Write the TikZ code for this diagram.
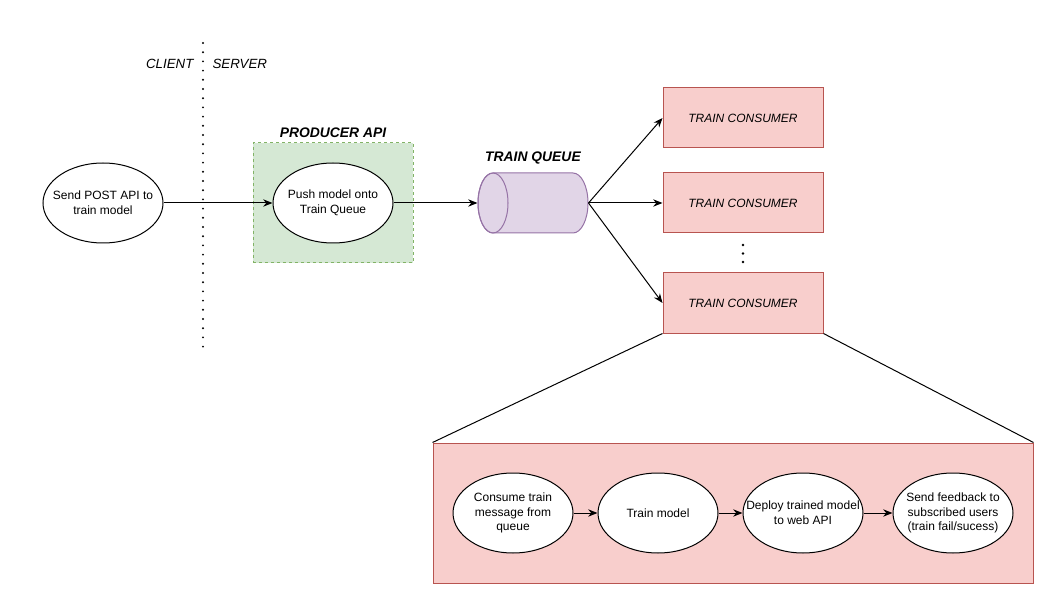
\documentclass[tikz,border=0pt]{standalone}
\usepackage{fontspec}
\setmainfont{Liberation Sans}
\usetikzlibrary{arrows.meta,shapes.geometric}
\definecolor{gfill}{HTML}{D5E8D4}
\definecolor{gline}{HTML}{82B366}
\definecolor{pfill}{HTML}{E1D5E7}
\definecolor{pline}{HTML}{9673A6}
\definecolor{rfill}{HTML}{F8CECC}
\definecolor{rline}{HTML}{B85450}
\tikzset{
  every picture/.style={line width=0.75pt},
  txt/.style={font=\fontsize{9}{11}\selectfont, align=center},
  oval/.style={ellipse, draw=black, fill=white, inner xsep=-12pt, inner ysep=0pt, minimum width=90pt, minimum height=60pt, txt},
  consumer/.style={rectangle, draw=rline, fill=rfill, inner sep=0pt, minimum width=120pt, minimum height=45pt, font=\fontsize{9}{11}\selectfont\itshape},
  arr/.style={-{Stealth[length=7pt,width=5.5pt]}, line width=0.75pt},
  lbl/.style={font=\fontsize{10}{12}\selectfont\itshape, inner sep=0pt},
  blbl/.style={font=\fontsize{10.4}{12}\selectfont\bfseries\itshape, inner sep=0pt}
}
\begin{document}
\begin{tikzpicture}[x=0.75pt,y=-0.75pt]
\useasboundingbox (0,0) rectangle (1053,602);
% client/server divider
\coordinate (divtop) at (203,43);
\coordinate (divbot) at (203,350);
\draw[line width=1.6pt, line cap=round, dash pattern=on 0pt off 6.9pt] (divtop) -- (divbot);
\node[lbl, anchor=east] (client) at (194,64) {CLIENT};
\node[lbl, anchor=west] (server) at (212,64) {SERVER};
% producer
\node[rectangle, draw=gline, fill=gfill, dash pattern=on 2.25pt off 2.25pt, minimum width=120pt, minimum height=90pt, inner sep=0pt] (prodbox) at (333,203) {};
\node[blbl] (prodlbl) at (333,133) {PRODUCER API};
\node[oval] (send) at (103,203) {Send POST API to\\train model};
\node[oval] (push) at (333,203) {Push model onto\\Train Queue};
% queue
\node[rectangle, inner sep=0pt, minimum width=82.5pt, minimum height=45pt] (queue) at (533,203) {};
\filldraw[draw=pline, fill=pfill] (493,173) -- (573,173) arc[start angle=90, end angle=-90, x radius=11.25pt, y radius=22.5pt] -- (493,233) arc[start angle=270, end angle=90, x radius=11.25pt, y radius=22.5pt] -- cycle;
\draw[draw=pline] (493,203) ellipse [x radius=11.25pt, y radius=22.5pt];
\node[blbl] (queuelbl) at (533,158) {TRAIN QUEUE};
% consumers
\node[consumer] (cons1) at (743,118) {TRAIN CONSUMER};
\node[consumer] (cons2) at (743,203) {TRAIN CONSUMER};
\node[consumer] (cons3) at (743,303) {TRAIN CONSUMER};
\node[circle, fill=black, inner sep=0pt, minimum size=2pt] (d1) at (743,245) {};
\node[circle, fill=black, inner sep=0pt, minimum size=2pt] (d2) at (743,253.5) {};
\node[circle, fill=black, inner sep=0pt, minimum size=2pt] (d3) at (743,262) {};
% detail box
\node[rectangle, draw=rline, fill=rfill, minimum width=450pt, minimum height=105pt, inner sep=0pt] (detail) at (733,513) {};
\draw (cons3.south west) -- (detail.north west);
\draw (cons3.south east) -- (detail.north east);
\node[oval] (consume) at (513,513) {Consume train\\message from\\queue};
\node[oval] (train) at (658,513) {Train model};
\node[oval] (deploy) at (803,513) {Deploy trained model\\to web API};
\node[oval] (feedback) at (953,513) {Send feedback to\\subscribed users\\(train fail/sucess)};
% connectors
\draw[arr] (send) -- (push);
\draw[arr] (push) -- (queue.west);
\draw[arr] (queue.east) -- (cons1.west);
\draw[arr] (queue.east) -- (cons2.west);
\draw[arr] (queue.east) -- (cons3.west);
\draw[arr] (consume) -- (train);
\draw[arr] (train) -- (deploy);
\draw[arr] (deploy) -- (feedback);
\end{tikzpicture}
\end{document}
